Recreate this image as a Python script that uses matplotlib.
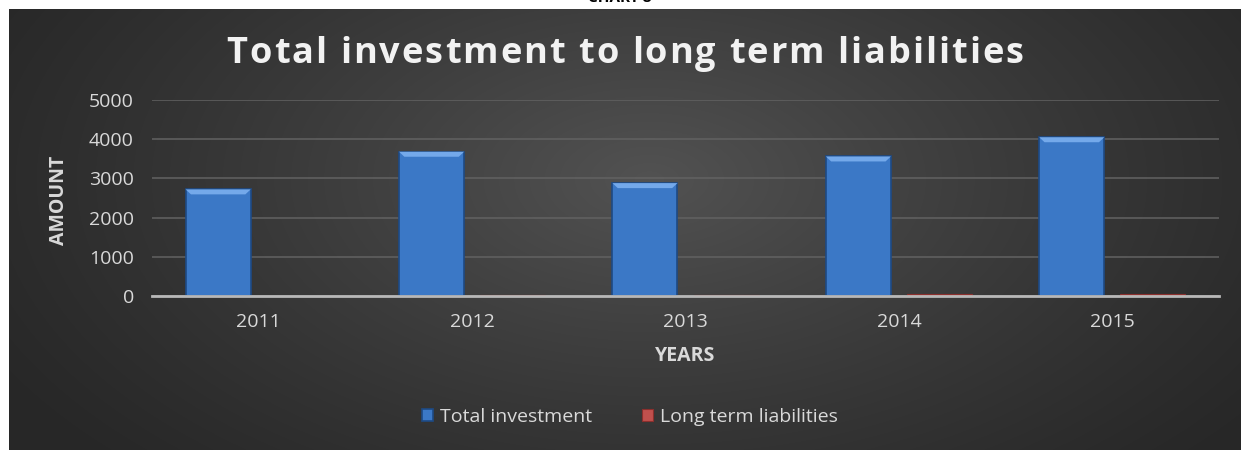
import numpy as np
import matplotlib
matplotlib.use("Agg")
import matplotlib.pyplot as plt
from matplotlib.patches import Polygon
from matplotlib import font_manager
from matplotlib.ft2font import FT2Font

years = ["2011", "2012", "2013", "2014", "2015"]
total_investment = [2720, 3680, 2880, 3560, 4050]
long_term_liabilities = [12, 15, 25, 45, 45]

TITLE = "Total investment to long term liabilities"
FONT = "Open Sans"
W, H = 1241, 450
fig = plt.figure(figsize=(W / 100, H / 100), dpi=100, facecolor="white")

# heading above the dark panel (mostly clipped at the top edge)
fig.text(620 / W, 1 + 2 / H, "CHART 8", ha="center", va="center",
         fontsize=11, fontweight="bold", color="black", family=FONT)

# dark panel with soft radial shading
bg = fig.add_axes([9 / W, 0, 1 - 9 / W, (H - 9) / H], zorder=0)
yy, xx = np.mgrid[0:441, 0:1232]
cx, cy = 640, 170
d = np.sqrt(((xx - cx) / 760.0) ** 2 + ((yy - cy) / 420.0) ** 2)
shade = np.clip(1 - d, 0, 1) ** 1.2
light = np.array([0x52, 0x52, 0x52]) / 255
dark = np.array([0x27, 0x27, 0x27]) / 255
img = dark + (light - dark) * shade[..., None]
bg.imshow(img, aspect="auto", extent=[0, 1, 0, 1], origin="upper")
bg.set_axis_off()

ax = fig.add_axes([152 / W, 1 - 296 / H, (1219 - 152) / W, (296 - 100) / H], zorder=1)
ax.patch.set_alpha(0)

x = np.arange(len(years))
bw = 0.305
off = 0.19
b1 = ax.bar(x - off, total_investment, bw, color="#3b78c6",
            edgecolor="#1d4a85", linewidth=1.2, zorder=3, label="Total investment")
b2 = ax.bar(x + off, long_term_liabilities, bw, color="#c0504d",
            edgecolor="#8c2f2d", linewidth=0.8, zorder=3, label="Long term liabilities")

# bevelled top edge on each blue bar
ymax = 5000
bev_y = ymax * 5 / 196
bev_x = 0.025
for p in b1.patches:
    x0, x1, h = p.get_x(), p.get_x() + p.get_width(), p.get_height()
    ax.add_patch(Polygon([(x0, h), (x1, h), (x1 - bev_x, h - bev_y), (x0 + bev_x, h - bev_y)],
                         closed=True, facecolor="#74a9ea", edgecolor="none", zorder=4))

ax.set_xlim(-0.5, len(years) - 0.5)
ax.set_ylim(0, ymax)
ax.set_yticks(range(0, 5001, 1000))
ax.set_xticks(x)
ax.set_xticklabels(years)
ax.grid(axis="y", color="#626262", linewidth=1.1, zorder=1)
ax.set_axisbelow(True)
for s in ["top", "right", "left"]:
    ax.spines[s].set_visible(False)
ax.spines["bottom"].set_color("#b8b8b8")
ax.spines["bottom"].set_linewidth(2)
ax.spines["bottom"].set_zorder(5)
ax.tick_params(axis="both", length=0, colors="#d9d9d9", labelsize=14)
ax.tick_params(axis="y", pad=13)
ax.tick_params(axis="x", pad=12)
for t in ax.get_xticklabels() + ax.get_yticklabels():
    t.set_family(FONT)


def spaced_text(text, cx_px, base_px, size, width_px, family, weight, color):
    """Draw text one glyph at a time, spread evenly to a given pixel width."""
    path = font_manager.findfont(font_manager.FontProperties(family=family, weight=weight))
    ft = FT2Font(path)
    ft.set_size(size, 100)
    adv = []
    for ch in text:
        g = ft.load_char(ord(ch))
        adv.append(g.linearHoriAdvance / 65536.0)
    natural = sum(adv)
    gap = (width_px - natural) / (len(text) - 1)
    xpos = cx_px - width_px / 2
    for ch, a in zip(text, adv):
        if ch != " ":
            fig.text(xpos / W, 1 - base_px / H, ch, ha="left", va="baseline",
                     fontsize=size, fontweight=weight, color=color, family=family)
        xpos += a + gap


spaced_text(TITLE, 625, 63, 26, 797, FONT, "bold", "#f2f2f2")

fig.text(59 / W, 1 - 200 / H, "AMOUNT", rotation=90, ha="center", va="center",
         fontsize=14, fontweight="bold", color="#d9d9d9", family=FONT)
fig.text(685 / W, 1 - 356 / H, "YEARS", ha="center", va="center",
         fontsize=14, fontweight="bold", color="#d9d9d9", family=FONT)

leg = fig.legend(handles=[b1, b2], loc="center", bbox_to_anchor=(630 / W, 1 - 417 / H),
                 ncol=2, frameon=False, handlelength=0.55, handleheight=0.55,
                 handletextpad=0.35, columnspacing=2.6,
                 prop={"family": FONT, "size": 14})
for t in leg.get_texts():
    t.set_color("#d9d9d9")

fig.savefig("out.png", dpi=100, facecolor="white")
